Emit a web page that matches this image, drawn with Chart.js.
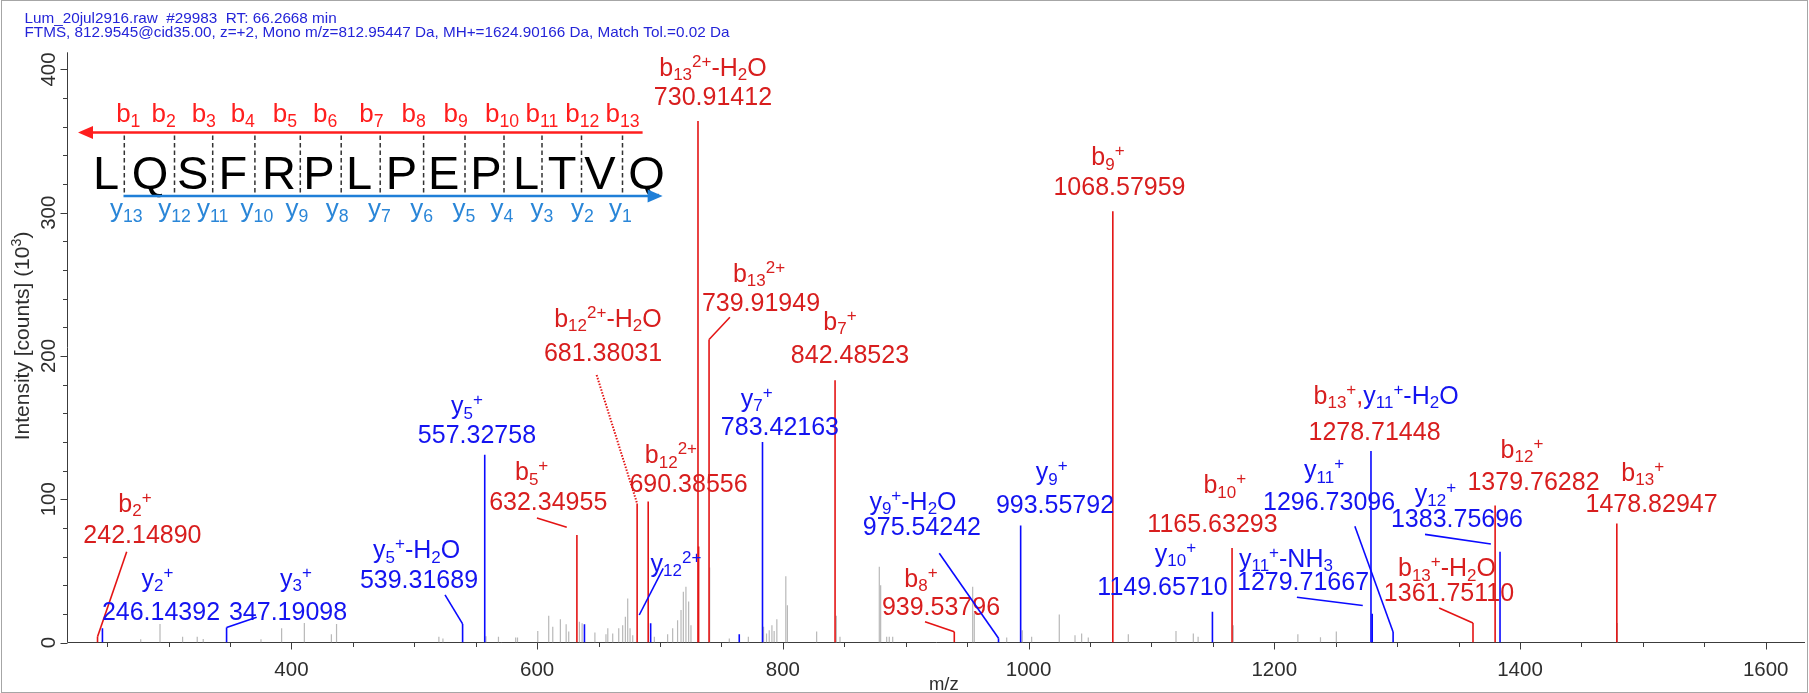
<!DOCTYPE html>
<html>
<head>
<meta charset="utf-8">
<script src="https://cdn.jsdelivr.net/npm/chart.js@4.4.1/dist/chart.umd.min.js"></script>
<style>
  html, body { margin: 0; padding: 0; background: #ffffff; }
  #wrap { width: 1809px; height: 693px; position: relative; }
</style>
</head>
<body>
<div id="wrap"><canvas id="spectrum" width="1809" height="693"></canvas></div>
<script>
// ---- scan header / axis text ----
const headerLines = [
  'Lum_20jul2916.raw  #29983  RT: 66.2668 min',
  'FTMS, 812.9545@cid35.00, z=+2, Mono m/z=812.95447 Da, MH+=1624.90166 Da, Match Tol.=0.02 Da'
];
const yAxisTitle = 'Intensity [counts] (10^{3})';
const xAxisTitle = 'm/z';
const xRange = [217.3, 1632];
const yRange = [0, 412];
const xMinorStep = 50, xMajorStep = 200;
const yMinorStep = 20, yMajorStep = 100;

// ---- matched b ions (m/z, intensity x10^3) ----
const bIonMz        = [242.14890, 632.34955, 681.38031, 690.38556, 730.91412, 739.91949, 842.48523, 939.53796, 1068.57959, 1165.63293, 1361.75110, 1379.76282, 1478.82947];
const bIonIntensity = [4,         75,        97,        98.5,      364,       211.5,     183,       7.5,       301,        66,         13.6,       95.6,       83];
const bIsotopeMz        = [731.41];
const bIsotopeIntensity = [67];

// ---- matched y ions ----
const yIonMz        = [246.14392, 347.19098, 539.31689, 557.32758, 692.38212, 783.42163, 975.54242, 993.55792, 1149.65710, 1278.71448, 1279.71667, 1296.73096, 1383.75696];
const yIonIntensity = [9.9,       10.5,      13,        131,       13.4,      140,       3,         81.7,      21.5,       133.7,      20,         7.3,        63.3];
const yExtraMz        = [638.5, 764.5];
const yExtraIntensity = [12.8, 5.7];

// ---- unassigned peaks ----
const noiseMz = [277.3, 293, 311.4, 323.3, 328.2, 375.2, 392, 410.5, 432.5, 436.7, 520, 523.3, 558.3, 568.5, 582.5, 584,
  600.5, 609.4, 612.7, 618.9, 623.6, 625.7, 634.4, 636.6, 647, 656, 657.5, 661.5, 666.4, 669.6, 671.8, 673.7, 675.6, 677.8,
  695.4, 706.2, 710.3, 714.3, 717.1, 719, 721.1, 723.3, 725.2, 740.4, 756.4, 771.9, 784.3, 786.7, 788.9, 791.1, 792.9,
  795.1, 802.4, 803.7, 827.5, 843.5, 846.5, 878.5, 879.6, 884.5, 886.6, 889.4, 954.5, 955.8, 982.2, 994.9, 1002.5,
  1025, 1037.8, 1043.2, 1048.6, 1081.2, 1120, 1134.1, 1138, 1166.6, 1219.2, 1237.6, 1250.5, 1479.3];
const noiseIntensity = [2.2, 12.9, 4, 4, 2.4, 2.2, 9.9, 13.6, 5.7, 12.9, 4, 2.8, 4.3, 4, 3.5, 3.5,
  8.1, 18.7, 11, 16.3, 12.8, 7.7, 14.5, 13.4, 7, 5.7, 9.9, 6.3, 9.9, 12.1, 17.9, 30.7, 9.9, 5,
  4, 5.7, 9.9, 15.6, 22.6, 35.5, 39, 28.6, 12.1, 52.3, 2.8, 4, 11, 6.3, 8.6, 12.1, 8,
  16.3, 46.2, 26, 7.6, 18.7, 4, 52.9, 40, 4, 4, 4, 39, 20.4, 3.5, 8.6, 4,
  19.6, 5, 6.3, 3.5, 5.7, 8, 6.3, 4, 12.1, 5.7, 3.6, 7.6, 13.6];

// ---- sequence coverage ----
const peptide = 'LQSFRPLPEPLTVQ';

const RED_TEXT = '#d81e1e', RED_LINE = '#e41414';
const BLUE_TEXT = '#1414f0', BLUE_LINE = '#0a0aff';
const GRAY_LINE = '#b8b8b8';
const FONT = '"Liberation Sans", Arial, Helvetica, sans-serif';

// label placement in data units: [m/z, intensity]
const peakLabels = [
  { s: 'b', i: 0,  name: 'b_{2}^{+}',            nameAt: [272.6, 91.3],  numAt: [278.7, 69.2],  lead: [265.9, 63.4] },
  { s: 'y', i: 0,  name: 'y_{2}^{+}',            nameAt: [290.9, 39],    numAt: [293.8, 15.7] },
  { s: 'y', i: 1,  name: 'y_{3}^{+}',            nameAt: [403.7, 39],    numAt: [397.2, 15.7],  lead: [371.7, 17.6] },
  { s: 'y', i: 2,  name: 'y_{5}^{+}-H_{2}O',     nameAt: [501.9, 58.8],  numAt: [503.8, 37.8],  lead: [525, 33.2] },
  { s: 'y', i: 3,  name: 'y_{5}^{+}',            nameAt: [542.9, 159.5], numAt: [551, 139.3] },
  { s: 'b', i: 1,  name: 'b_{5}^{+}',            nameAt: [595.5, 113.4], numAt: [609, 92.5],    lead: [599.8, 86.9], leadTo: [624.1, 80.4] },
  { s: 'b', i: 2,  name: 'b_{12}^{2+}-H_{2}O',   nameAt: [657.6, 220.5], numAt: [653.6, 196.7], lead: [648.4, 186.7], dotted: true },
  { s: 'b', i: 3,  name: 'b_{12}^{2+}',          nameAt: [708.9, 125.1], numAt: [723.2, 105.3] },
  { s: 'y', i: 4,  name: 'y_{12}^{2+}',          nameAt: [713, 49.4],    lead: [702.6, 51.8],   leadTo: [683.1, 19.2] },
  { s: 'b', i: 4,  name: 'b_{13}^{2+}-H_{2}O',   nameAt: [743.1, 395.5], numAt: [743.1, 375.2] },
  { s: 'b', i: 5,  name: 'b_{13}^{2+}',          nameAt: [780.6, 251.9], numAt: [782.2, 231.6], lead: [756.9, 227] },
  { s: 'y', i: 5,  name: 'y_{7}^{+}',            nameAt: [778.7, 164.6], numAt: [797.6, 144.9] },
  { s: 'b', i: 6,  name: 'b_{7}^{+}',            nameAt: [846.5, 218.2], numAt: [854.6, 195.3] },
  { s: 'b', i: 7,  name: 'b_{8}^{+}',            nameAt: [912.4, 39],    numAt: [928.7, 19.2],  lead: [915.7, 14.5] },
  { s: 'y', i: 6,  name: 'y_{9}^{+}-H_{2}O',     nameAt: [905.9, 92.5],  numAt: [913.2, 75],    lead: [927.3, 62.3] },
  { s: 'y', i: 7,  name: 'y_{9}^{+}',            nameAt: [1018.8, 113.4], numAt: [1021.5, 90.2] },
  { s: 'b', i: 8,  name: 'b_{9}^{+}',            nameAt: [1064.6, 333.3], numAt: [1074, 312.4] },
  { s: 'y', i: 8,  name: 'y_{10}^{+}',           nameAt: [1119.6, 56.4], numAt: [1109, 33.2] },
  { s: 'b', i: 9,  name: 'b_{10}^{+}',           nameAt: [1159.7, 104.2], numAt: [1149.7, 77.3] },
  { s: 'y', i: 10, name: 'y_{11}^{+}-NH_{3}',    nameAt: [1209.5, 52.9], numAt: [1223.4, 36.6], lead: [1218.4, 31.6], leadTo: [1272, 25.8] },
  { s: 'y', i: 9,  name: [['b_{13}^{+},', RED_TEXT], ['y_{11}^{+}-H_{2}O', BLUE_TEXT]], numColor: RED_TEXT,
                                                 nameAt: [1291, 166.6],  numAt: [1281.6, 141.2] },
  { s: 'y', i: 11, name: 'y_{11}^{+}',           nameAt: [1240.5, 114.8], numAt: [1244.6, 92.5], lead: [1265.6, 81.1] },
  { s: 'y', i: 12, name: 'y_{12}^{+}',           nameAt: [1331.2, 98.3], numAt: [1348.7, 80.6], lead: [1322.7, 75.5], leadTo: [1376.3, 68.8] },
  { s: 'b', i: 10, name: 'b_{13}^{+}-H_{2}O',    nameAt: [1340.6, 46.4], numAt: [1342.2, 28.8], lead: [1334.2, 24.1] },
  { s: 'b', i: 11, name: 'b_{12}^{+}',           nameAt: [1401.6, 128.9], numAt: [1411, 106.5] },
  { s: 'b', i: 12, name: 'b_{13}^{+}',           nameAt: [1499.9, 112.9], numAt: [1507.1, 90.8] }
];

// fragment map layout (canvas pixels)
const seqLayout = {
  residueX:  [106, 150, 192.6, 232.8, 279, 319, 359, 401.5, 443.7, 486, 526, 562, 600, 646.6],
  cleaveX:   [124.3, 174.5, 212.7, 254.9, 300.3, 341.2, 380.2, 423.6, 465, 504, 542, 581.5, 622.5],
  bLabelX:   [128.3, 163.7, 203.8, 242.8, 285, 325.2, 371.4, 413.6, 455.7, 502, 542, 582.3, 622.5],
  yLabelX:   [126.3, 174.5, 212.7, 256.9, 297, 337.2, 379.4, 421.6, 463.8, 502, 542, 582.3, 620.5],
  residueFont: 47, residueBase: 189, bArrowY: 132.5, yArrowY: 196, bLabelBase: 122, yLabelBase: 216.5,
  ladderFont: 26, bArrowX: [78, 642.6], yArrowX: [123.5, 662.6]
};

function parseRich(str) {
  const out = []; let buf = ''; let i = 0;
  while (i < str.length) {
    const c = str[i];
    if ((c === '_' || c === '^') && str[i + 1] === '{') {
      if (buf) { out.push({ t: buf, k: 0 }); buf = ''; }
      const j = str.indexOf('}', i);
      out.push({ t: str.slice(i + 2, j), k: c === '_' ? 1 : 2 });
      i = j + 1;
    } else { buf += c; i++; }
  }
  if (buf) out.push({ t: buf, k: 0 });
  return out;
}

function richParts(spec, color) {
  if (typeof spec === 'string') return parseRich(spec).map(p => ({ ...p, color }));
  const parts = [];
  spec.forEach(([s, col]) => parseRich(s).forEach(p => parts.push({ ...p, color: col })));
  return parts;
}

function drawRich(ctx, parts, cx, by, size, opts = {}) {
  const small = size * (opts.smallRatio || 0.68);
  const subDy = size * (opts.subDy || 0.18), supDy = -size * (opts.supDy || 0.36);
  const fontFor = k => (k ? small : size) + 'px ' + FONT;
  let total = 0;
  parts.forEach(p => { ctx.font = fontFor(p.k); p.w = ctx.measureText(p.t).width; total += p.w; });
  let x = opts.align === 'left' ? cx : cx - total / 2;
  ctx.textBaseline = 'alphabetic';
  ctx.textAlign = 'left';
  parts.forEach(p => {
    ctx.font = fontFor(p.k);
    ctx.fillStyle = p.color;
    const dy = p.k === 1 ? subDy : p.k === 2 ? supDy : 0;
    ctx.fillText(p.t, x, by + dy);
    x += p.w;
  });
  return total;
}

const frameAndAxes = {
  id: 'frameAndAxes',
  beforeDraw(chart) {
    const { ctx } = chart;
    ctx.save();
    ctx.fillStyle = '#ffffff';
    ctx.fillRect(0, 0, chart.width, chart.height);
    ctx.strokeStyle = '#a6a6a6';
    ctx.lineWidth = 1;
    ctx.strokeRect(1.5, 0.5, chart.width - 3, chart.height - 1);
    ctx.restore();
  },
  beforeDatasetsDraw(chart) {
    const { ctx, chartArea: ca } = chart;
    const xs = chart.scales.x, ys = chart.scales.y;
    ctx.save();
    ctx.strokeStyle = '#3c3c3c';
    ctx.lineWidth = 1;
    const axX = Math.round(ca.left) + 0.5;
    const axY = ys.getPixelForValue(0);
    ctx.beginPath();
    ctx.moveTo(axX, ca.top); ctx.lineTo(axX, axY);
    ctx.moveTo(axX, axY); ctx.lineTo(ca.right, axY);
    // x ticks
    for (let v = Math.ceil(xRange[0] / xMinorStep) * xMinorStep; v <= xRange[1]; v += xMinorStep) {
      const px = Math.round(xs.getPixelForValue(v)) + 0.5;
      ctx.moveTo(px, axY); ctx.lineTo(px, axY + (v % xMajorStep === 0 ? 7 : 4.5));
    }
    // y ticks
    for (let v = yRange[0]; v <= yRange[1]; v += yMinorStep) {
      const py = Math.round(ys.getPixelForValue(v)) + 0.5;
      ctx.moveTo(axX, py); ctx.lineTo(axX - (v % yMajorStep === 0 ? 7 : 4.5), py);
    }
    ctx.stroke();

    ctx.fillStyle = '#2e2e2e';
    ctx.font = '20.5px ' + FONT;
    ctx.textAlign = 'center';
    ctx.textBaseline = 'alphabetic';
    for (let v = Math.ceil(xRange[0] / xMajorStep) * xMajorStep; v <= xRange[1]; v += xMajorStep) {
      ctx.fillText(String(v), xs.getPixelForValue(v), axY + 33);
    }
    for (let v = yRange[0]; v <= yRange[1]; v += yMajorStep) {
      ctx.save();
      ctx.translate(ca.left - 18, ys.getPixelForValue(v));
      ctx.rotate(-Math.PI / 2);
      ctx.textBaseline = 'middle';
      ctx.fillText(String(v), 0, 0);
      ctx.restore();
    }
    // axis titles
    ctx.font = '18.5px ' + FONT;
    ctx.fillText(xAxisTitle, xs.getPixelForValue(931), axY + 47);
    ctx.save();
    ctx.translate(ca.left - 45, ys.getPixelForValue(214));
    ctx.rotate(-Math.PI / 2);
    drawRich(ctx, richParts(yAxisTitle, '#2e2e2e'), 0, 7, 21, { supDy: 0.4 });
    ctx.restore();
    ctx.restore();
  },
  afterDatasetsDraw(chart) {
    const { ctx } = chart;
    const xs = chart.scales.x, ys = chart.scales.y;
    const X = v => xs.getPixelForValue(v), Y = v => ys.getPixelForValue(v);
    ctx.save();

    // header
    ctx.fillStyle = '#2424d8';
    ctx.font = '15px ' + FONT;
    ctx.textAlign = 'left';
    ctx.textBaseline = 'alphabetic';
    const squeeze = 705 / ctx.measureText(headerLines[1]).width;
    [23, 37].forEach((base, k) => {
      ctx.save();
      ctx.translate(24.5, base);
      ctx.scale(squeeze, 1);
      ctx.fillText(headerLines[k], 0, 0);
      ctx.restore();
    });

    // peak annotations
    peakLabels.forEach(lb => {
      const mzArr = lb.s === 'b' ? bIonMz : yIonMz;
      const inArr = lb.s === 'b' ? bIonIntensity : yIonIntensity;
      const mz = mzArr[lb.i], inten = inArr[lb.i];
      const col = lb.s === 'b' ? RED_TEXT : BLUE_TEXT;
      const lineCol = lb.s === 'b' ? RED_LINE : BLUE_LINE;
      if (lb.lead) {
        const end = lb.leadTo || [mz, inten];
        ctx.beginPath();
        ctx.strokeStyle = lineCol;
        ctx.lineWidth = lb.dotted ? 2 : 1.6;
        ctx.setLineDash(lb.dotted ? [1.5, 1.5] : []);
        ctx.moveTo(X(lb.lead[0]), Y(lb.lead[1]));
        ctx.lineTo(X(end[0]), Y(end[1]));
        ctx.stroke();
        ctx.setLineDash([]);
      }
      drawRich(ctx, richParts(lb.name, col), X(lb.nameAt[0]), Y(lb.nameAt[1]), 25);
      if (lb.numAt) {
        drawRich(ctx, [{ t: mz.toFixed(5), k: 0, color: lb.numColor || col }], X(lb.numAt[0]), Y(lb.numAt[1]), 25);
      }
    });

    // fragment map
    const L = seqLayout;
    ctx.fillStyle = '#000000';
    ctx.font = L.residueFont + 'px ' + FONT;
    ctx.textAlign = 'center';
    peptide.split('').forEach((aa, k) => ctx.fillText(aa, L.residueX[k], L.residueBase));
    ctx.strokeStyle = '#333333';
    ctx.lineWidth = 1.5;
    ctx.setLineDash([4.5, 3]);
    ctx.beginPath();
    L.cleaveX.forEach(x => { ctx.moveTo(x, L.bArrowY + 3); ctx.lineTo(x, L.yArrowY - 2); });
    ctx.stroke();
    ctx.setLineDash([]);
    // b direction arrow
    ctx.strokeStyle = '#ff1e1e'; ctx.fillStyle = '#ff1e1e'; ctx.lineWidth = 2.6;
    ctx.beginPath(); ctx.moveTo(L.bArrowX[0] + 10, L.bArrowY); ctx.lineTo(L.bArrowX[1], L.bArrowY); ctx.stroke();
    ctx.beginPath(); ctx.moveTo(L.bArrowX[0], L.bArrowY); ctx.lineTo(L.bArrowX[0] + 15, L.bArrowY - 6.5); ctx.lineTo(L.bArrowX[0] + 15, L.bArrowY + 6.5); ctx.closePath(); ctx.fill();
    // y direction arrow
    ctx.strokeStyle = '#1f7fd8'; ctx.fillStyle = '#1f7fd8';
    ctx.beginPath(); ctx.moveTo(L.yArrowX[0], L.yArrowY); ctx.lineTo(L.yArrowX[1] - 10, L.yArrowY); ctx.stroke();
    ctx.beginPath(); ctx.moveTo(L.yArrowX[1], L.yArrowY); ctx.lineTo(L.yArrowX[1] - 15, L.yArrowY - 6.5); ctx.lineTo(L.yArrowX[1] - 15, L.yArrowY + 6.5); ctx.closePath(); ctx.fill();
    // ion ladder labels
    const n = peptide.length - 1;
    for (let k = 0; k < n; k++) {
      drawRich(ctx, [{ t: 'b', k: 0, color: '#ff1e1e' }, { t: String(k + 1), k: 1, color: '#ff1e1e' }], L.bLabelX[k], L.bLabelBase, L.ladderFont, { subDy: 0.2 });
      drawRich(ctx, [{ t: 'y', k: 0, color: '#2a86d8' }, { t: String(n - k), k: 1, color: '#2a86d8' }], L.yLabelX[k], L.yLabelBase, L.ladderFont, { subDy: 0.2 });
    }
    ctx.restore();
  }
};

const toPoints = (xsArr, ysArr) => xsArr.map((x, k) => ({ x, y: ysArr[k] }));

new Chart(document.getElementById('spectrum'), {
  type: 'bar',
  data: {
    datasets: [
      { label: 'y ions', data: toPoints(yIonMz, yIonIntensity).concat(toPoints(yExtraMz, yExtraIntensity)),
        backgroundColor: BLUE_LINE, barThickness: 1.6, order: 1 },
      { label: 'b ions', data: toPoints(bIonMz, bIonIntensity).concat(toPoints(bIsotopeMz, bIsotopeIntensity)),
        backgroundColor: RED_LINE, barThickness: 1.6, order: 2 },
      { label: 'unassigned', data: toPoints(noiseMz, noiseIntensity),
        backgroundColor: GRAY_LINE, barThickness: 1.2, order: 3 }
    ]
  },
  options: {
    responsive: false,
    animation: false,
    devicePixelRatio: 1,
    layout: { padding: { left: 67, right: 4, top: 52.3, bottom: 50.5 } },
    datasets: { bar: { grouped: false, inflateAmount: 0, borderWidth: 0 } },
    scales: {
      x: { type: 'linear', min: xRange[0], max: xRange[1], offset: false, display: false },
      y: { type: 'linear', min: yRange[0], max: yRange[1], display: false }
    },
    plugins: { legend: { display: false }, tooltip: { enabled: false }, title: { display: false } }
  },
  plugins: [frameAndAxes]
});
</script>
</body>
</html>
